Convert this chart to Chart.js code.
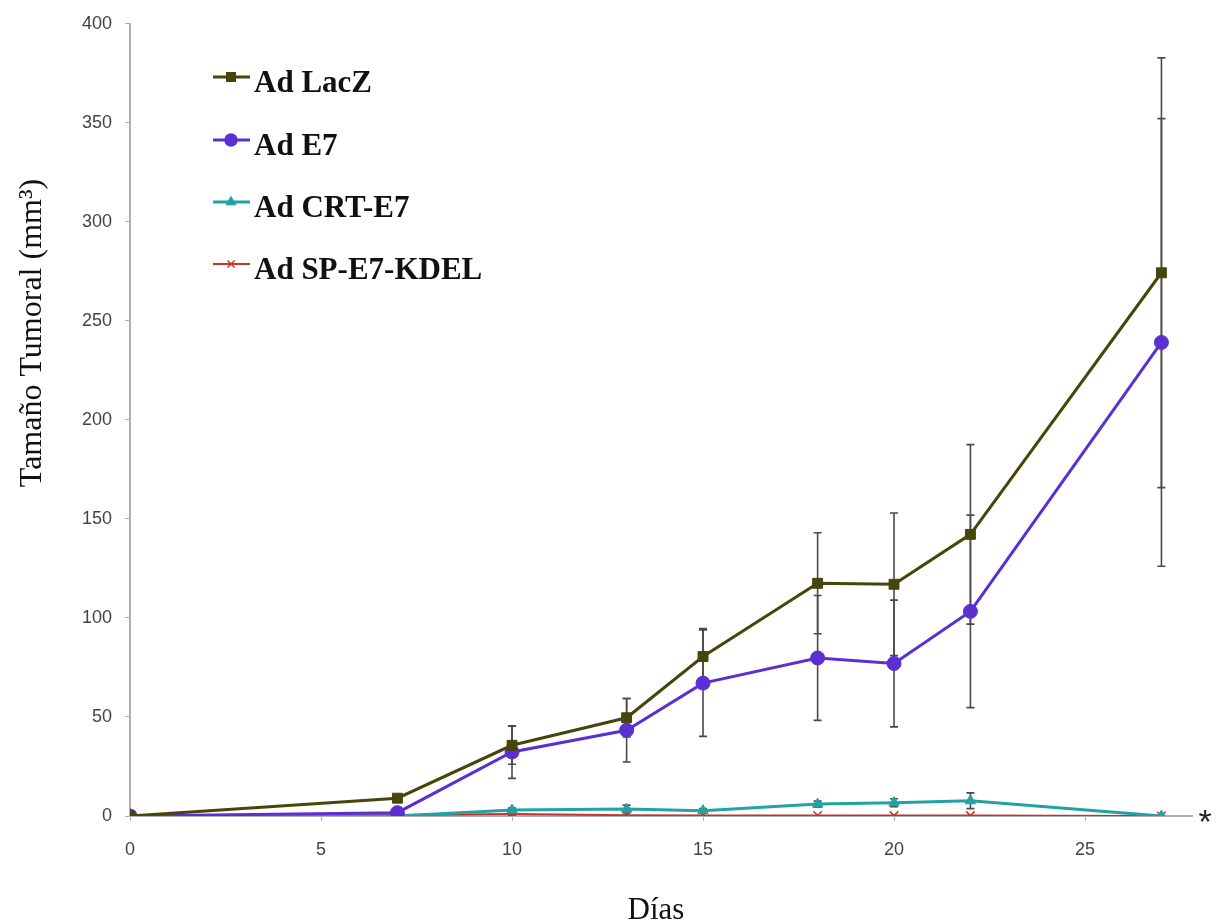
<!DOCTYPE html>
<html>
<head>
<meta charset="utf-8">
<script src="https://cdn.jsdelivr.net/npm/chart.js@4"></script>
<style>
  html, body { margin: 0; padding: 0; background: #fff; }
  #wrap { width: 1219px; height: 923px; }
</style>
</head>
<body>
<div id="wrap"><canvas id="myChart" width="1219" height="923"></canvas></div>
<script>
// days of measurement
const days = [0, 7, 10, 13, 15, 18, 20, 22, 27];

// mean tumour size (mm3) and error per group
const lacz    = [0, 9, 35.7, 49.6, 80.5, 117.5, 117, 142.2, 274.3];
const laczErr = [0, 0, 9.6, 9.7, 14.1, 25.5, 36, 45.3, 108.5];
const e7      = [0, 1.7, 32.3, 43.3, 67.1, 79.8, 77, 103.3, 239.1];
const e7Err   = [0, 0, 13.3, 16, 26.9, 31.5, 32, 48.6, 113];
const crt     = [0, 0, 3, 3.5, 2.7, 6, 6.7, 7.7, 0];
const crtErr  = [0, 0, 1, 2, 1, 1.5, 2, 4, 0];
const sp      = [0, 0.5, 1, 0.4, 0.3, 0.3, 0.2, 0.2, 0];
const spErr   = [0, 0, 0.5, 0, 0, 0, 0, 0, 0];

const yTicks = [0, 50, 100, 150, 200, 250, 300, 350, 400];
const xTicks = [0, 5, 10, 15, 20, 25];

const toPoints = (vals) => vals.map((v, i) => ({ x: days[i], y: v }));

const groups = [
  { label: 'Ad LacZ', data: lacz, err: laczErr, color: '#46460a', style: 'rect', radius: 7, width: 3 },
  { label: 'Ad E7', data: e7, err: e7Err, color: '#5b2fd2', style: 'circle', radius: 7, width: 3 },
  { label: 'Ad CRT-E7', data: crt, err: crtErr, color: '#22a3a3', style: 'triangle', radius: 6, width: 3 },
  { label: 'Ad SP-E7-KDEL', data: sp, err: spErr, color: '#c4342c', style: 'crossRot', radius: 6, width: 2 }
];

const serif = '"Liberation Serif", "Times New Roman", serif';

// error bars, drawn under the markers
const errorBars = {
  id: 'errorBars',
  beforeDatasetsDraw(chart) {
    const { ctx, scales: { x, y } } = chart;
    ctx.save();
    ctx.strokeStyle = '#4a4a4a';
    ctx.lineWidth = 1.6;
    groups.forEach(g => {
      g.data.forEach((v, i) => {
        const e = g.err[i];
        if (!e) return;
        const px = x.getPixelForValue(days[i]);
        const top = y.getPixelForValue(v + e);
        const bot = y.getPixelForValue(Math.max(v - e, 0));
        ctx.beginPath();
        ctx.moveTo(px, top); ctx.lineTo(px, bot);
        ctx.moveTo(px - 4, top); ctx.lineTo(px + 4, top);
        ctx.moveTo(px - 4, bot); ctx.lineTo(px + 4, bot);
        ctx.stroke();
      });
    });
    ctx.restore();
  }
};

// legend inside the plot, axis titles and the asterisk
const extras = {
  id: 'extras',
  afterDraw(chart) {
    const { ctx, chartArea } = chart;
    const x0 = chartArea.left + 83;
    const rows = [77, 140, 202, 264];
    ctx.save();
    chart.data.datasets.forEach((ds, i) => {
      const yy = rows[i];
      ctx.strokeStyle = ds.borderColor;
      ctx.fillStyle = ds.backgroundColor;
      ctx.lineWidth = ds.borderWidth;
      ctx.beginPath();
      ctx.moveTo(x0, yy); ctx.lineTo(x0 + 37, yy);
      ctx.stroke();
      ctx.lineWidth = 1.5;
      Chart.helpers.drawPoint(ctx, {
        pointStyle: ds.pointStyle, radius: ds.pointRadius - 1, borderWidth: 1.5
      }, x0 + 18, yy);
      ctx.fillStyle = '#111';
      ctx.font = 'bold 31px ' + serif;
      ctx.textAlign = 'left';
      ctx.textBaseline = 'alphabetic';
      ctx.fillText(ds.label, x0 + 41, yy + 15);
    });

    // axis titles
    ctx.fillStyle = '#111';
    ctx.font = '31px ' + serif;
    ctx.textAlign = 'center';
    ctx.textBaseline = 'alphabetic';
    ctx.fillText('Días', (chartArea.left + chartArea.right) / 2 - 5, 919);
    ctx.save();
    ctx.translate(41, 333);
    ctx.rotate(-Math.PI / 2);
    ctx.font = '32px ' + serif;
    ctx.fillText('Tamaño Tumoral (mm³)', 0, 0);
    ctx.restore();

    ctx.fillStyle = '#222';
    ctx.font = '34px "Liberation Sans", Arial, sans-serif';
    ctx.textAlign = 'center';
    ctx.textBaseline = 'middle';
    ctx.fillText('*', chartArea.right + 13, chart.scales.y.getPixelForValue(0) + 8);
    ctx.restore();
  }
};

const ctx = document.getElementById('myChart').getContext('2d');
new Chart(ctx, {
  type: 'line',
  data: {
    datasets: groups.map(g => ({
      label: g.label,
      data: toPoints(g.data),
      borderColor: g.color,
      backgroundColor: g.color,
      borderWidth: g.width,
      pointStyle: g.style,
      pointRadius: g.radius,
      pointBorderWidth: g.style === 'crossRot' ? 1.5 : 1,
      pointBackgroundColor: g.color,
      pointBorderColor: g.color,
      tension: 0
    }))
  },
  options: {
    responsive: false,
    animation: false,
    layout: { padding: { top: 19, right: 27, left: 0, bottom: 0 } },
    scales: {
      x: {
        type: 'linear',
        min: 0,
        max: 27.8,
        afterFit: (scale) => { scale.height = 107; },
        afterBuildTicks: (scale) => { scale.ticks = xTicks.map(v => ({ value: v })); },
        border: { color: '#b0b0b0', width: 2 },
        grid: { display: true, drawOnChartArea: false, color: '#b0b0b0', tickLength: 5 },
        ticks: {
          padding: 18,
          color: '#444',
          font: { family: '"Liberation Sans", Arial, sans-serif', size: 18 }
        }
      },
      y: {
        min: 0,
        max: 400,
        afterFit: (scale) => { scale.width = 130; },
        afterBuildTicks: (scale) => { scale.ticks = yTicks.map(v => ({ value: v })); },
        border: { color: '#b0b0b0', width: 2 },
        grid: { display: true, drawOnChartArea: false, color: '#b0b0b0', tickLength: 5 },
        ticks: {
          padding: 13,
          color: '#444',
          font: { family: '"Liberation Sans", Arial, sans-serif', size: 18 }
        }
      }
    },
    plugins: {
      legend: { display: false },
      tooltip: { enabled: false }
    }
  },
  plugins: [errorBars, extras]
});
</script>
</body>
</html>
